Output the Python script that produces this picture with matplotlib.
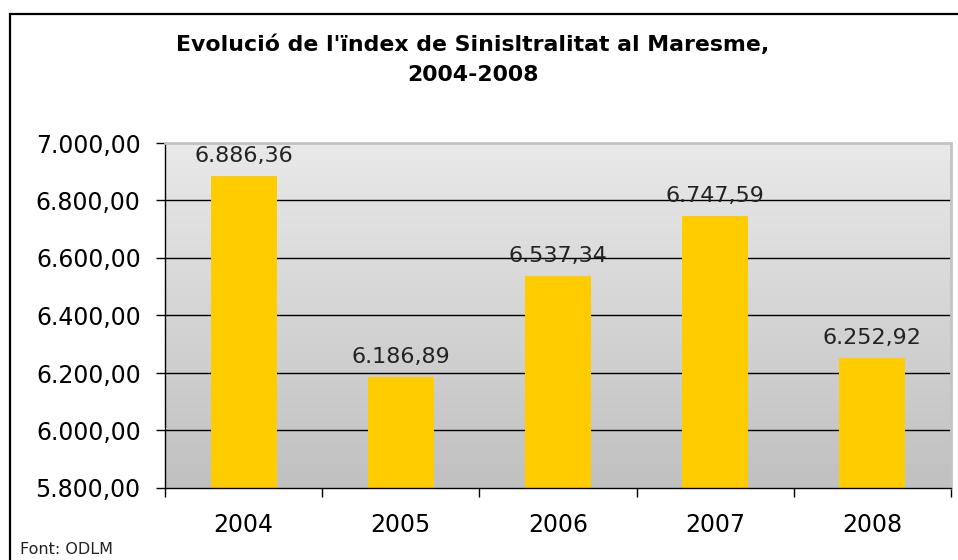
import matplotlib
matplotlib.use("Agg")
import matplotlib.pyplot as plt
import numpy as np
from matplotlib.patches import Rectangle
from matplotlib.ticker import FuncFormatter

years = ["2004", "2005", "2006", "2007", "2008"]
values = [6886.36, 6186.89, 6537.34, 6747.59, 6252.92]
y_ticks = [5800, 6000, 6200, 6400, 6600, 6800, 7000]
title = "Evolució de l'ïndex de Sinisltralitat al Maresme,\n2004-2008"
source = "Font: ODLM"

def euro(v, decimals=2):
    s = f"{v:,.{decimals}f}"
    return s.replace(",", "X").replace(".", ",").replace("X", ".")

plt.rcParams['font.family'] = ['DejaVu Sans']

fig = plt.figure(figsize=(9.58, 5.6), dpi=100)
fig.patch.set_facecolor("white")

# outer chart frame (extends past right/bottom edge)
fig.patches.append(Rectangle((9.5/958, -0.1), 1.2, 1 - 13.5/560 + 0.1,
                             transform=fig.transFigure, fill=False,
                             edgecolor="black", linewidth=1.6, zorder=0))

ax = fig.add_axes([165/958, 1 - 488/560, (951 - 165)/958, (488 - 143)/560])

x = np.arange(len(years))
ymin, ymax = y_ticks[0], y_ticks[-1]

# gradient background
grad = np.linspace(0, 1, 256).reshape(-1, 1)
cmap = matplotlib.colors.LinearSegmentedColormap.from_list("g", ["#C0C0C0", "#E9E9E9"])
ax.imshow(grad, extent=[-0.5, len(years) - 0.5, ymin, ymax], aspect="auto",
          origin="lower", cmap=cmap, zorder=0)

for t in y_ticks[1:-1]:
    ax.axhline(t, color="black", linewidth=1.0, zorder=1)

ax.bar(x, values, width=0.42, color="#FFCC00", zorder=2)

for xi, v in zip(x, values):
    ax.annotate(euro(v), (xi, v), xytext=(0, 7), textcoords="offset points",
                ha="center", va="bottom", fontsize=16, color="#222222", zorder=3)

ax.set_xlim(-0.5, len(years) - 0.5)
ax.set_ylim(ymin, ymax)
ax.set_yticks(y_ticks)
ax.yaxis.set_major_formatter(FuncFormatter(lambda v, p: euro(v)))
ax.tick_params(axis="y", length=6.5, width=1, pad=11, labelsize=17, colors="black")

ax.set_xticks(np.arange(-0.5, len(years), 1.0))
ax.set_xticklabels([])
ax.set_xticks(x, minor=True)
ax.set_xticklabels(years, minor=True)
ax.tick_params(axis="x", which="major", length=6.5, width=1)
ax.tick_params(axis="x", which="minor", length=0, pad=18, labelsize=17)

for s in ["left", "bottom"]:
    ax.spines[s].set_color("black")
    ax.spines[s].set_linewidth(1.0)
for s in ["top", "right"]:
    ax.spines[s].set_color("#C4C4C4")
    ax.spines[s].set_linewidth(2.0)

fig.text(473/958, 1 - 60/560, title, ha="center", va="center",
         fontsize=15.8, fontweight="bold", linespacing=1.6)
fig.text(20/958, 1 - 549/560, source, ha="left", va="center", fontsize=11.5,
         color="#222222")

fig.savefig("out.png", dpi=100)
